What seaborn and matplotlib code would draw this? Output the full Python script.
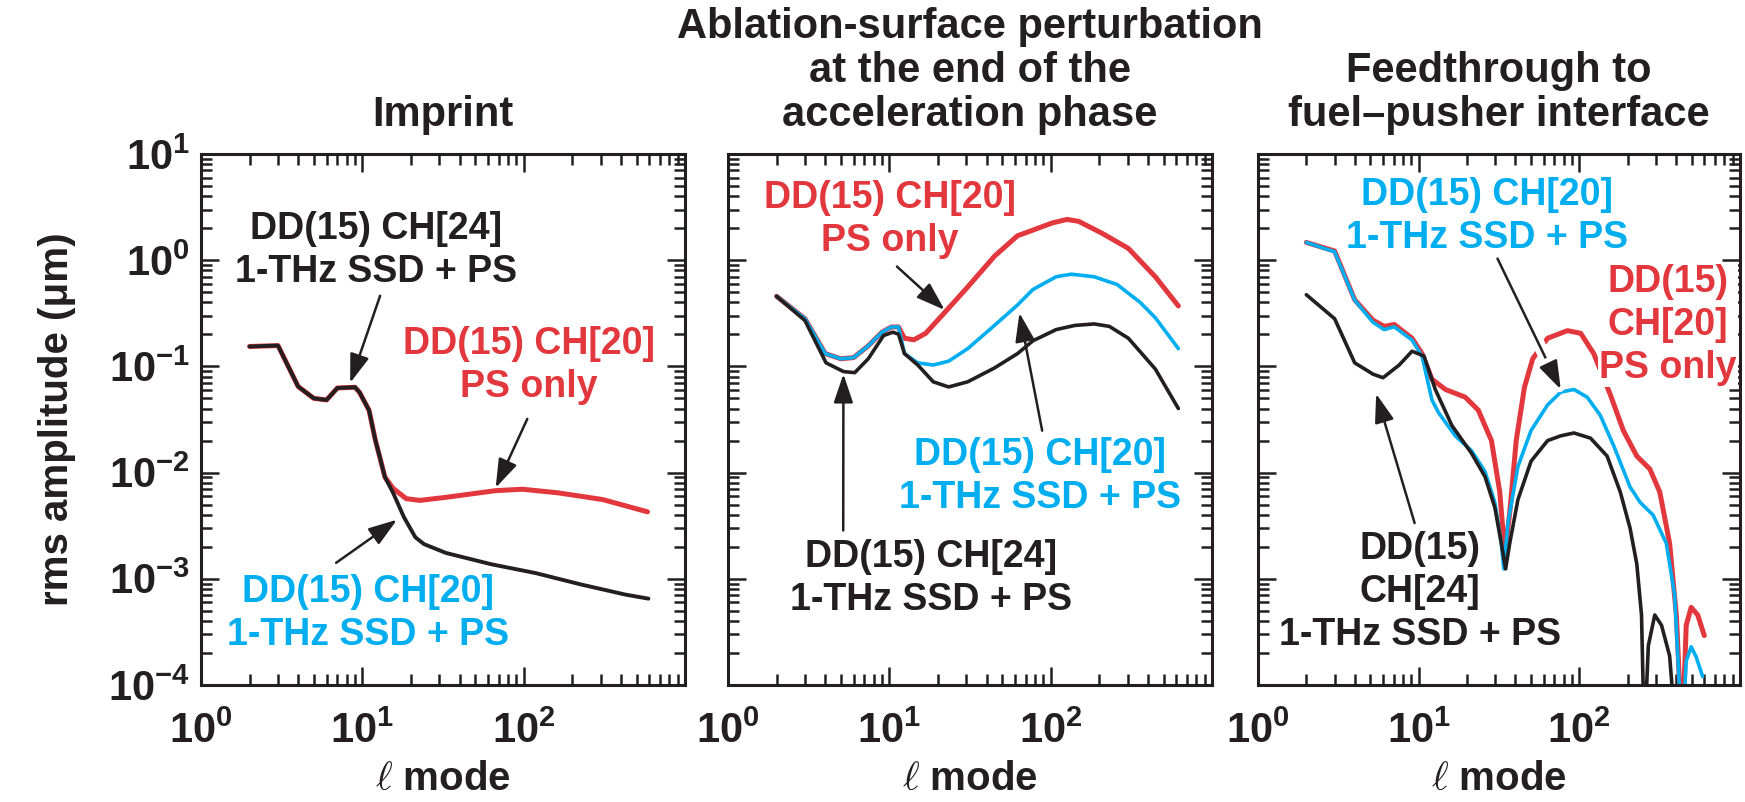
import pandas as pd
import seaborn as sns
import matplotlib.pyplot as plt
import matplotlib.patheffects as pe
from matplotlib.ticker import FixedLocator, FixedFormatter, LogLocator, NullFormatter

BLACK = "#231f20"
RED = "#e2373d"
BLUE = "#00aeef"

# tick values / labels
x_ticks = [1, 10, 100, 1000]
x_tick_labels = [r"$10^{0}$", r"$10^{1}$", r"$10^{2}$", ""]
y_ticks = [1e-4, 1e-3, 1e-2, 1e-1, 1e0, 1e1]
y_tick_labels = [r"$10^{-4}$", r"$10^{-3}$", r"$10^{-2}$", r"$10^{-1}$", r"$10^{0}$", r"$10^{1}$"]

titles = ["Imprint",
          "Ablation-surface perturbation\nat the end of the\nacceleration phase",
          "Feedthrough to\nfuel\u2013pusher interface"]

# panel 1: imprint
imp_red_mode = [2, 3, 4, 5, 6, 7, 9, 9.6, 11, 12, 13.8, 15.5, 18.7, 22.7, 33, 67, 98, 163, 309, 585]
imp_red_amp = [0.154, 0.157, 0.0646, 0.050, 0.0483, 0.0626, 0.0636, 0.057, 0.0386, 0.0206, 0.00906,
               0.0071, 0.00568, 0.00547, 0.00585, 0.00676, 0.00697, 0.00645, 0.00557, 0.00427]
imp_black_mode = [2, 3, 4, 5, 6, 7, 9, 9.6, 11, 12, 13.8, 15.5, 18.1, 21.3, 24.1, 33, 63, 119, 225, 426, 593]
imp_black_amp = [0.154, 0.157, 0.0646, 0.050, 0.0483, 0.0626, 0.0636, 0.057, 0.0386, 0.0206, 0.00906,
                 0.00645, 0.0038, 0.00246, 0.00212, 0.00175, 0.00137, 0.00113, 0.000886, 0.00071, 0.00065]

# panel 2: ablation surface
abl_red_mode = [2, 3, 4, 5, 6, 7.4, 9, 10.3, 11.4, 12.4, 14.2, 16.8, 22, 30.6, 44.8, 62.3, 73.4, 102,
                126, 149, 207, 303, 445, 618]
abl_red_amp = [0.457, 0.281, 0.132, 0.118, 0.121, 0.156, 0.210, 0.235, 0.235, 0.184, 0.178, 0.205,
               0.321, 0.56, 1.09, 1.70, 1.86, 2.24, 2.42, 2.32, 1.80, 1.29, 0.698, 0.371]
abl_blue_mode = [2, 3, 4, 5, 6, 7.4, 9, 10.3, 11.4, 12.4, 15, 18.7, 23.3, 30.6, 44.8, 62.3, 77.5, 108,
                 134, 186, 258, 358, 445, 618]
abl_blue_amp = [0.457, 0.281, 0.132, 0.118, 0.121, 0.156, 0.210, 0.235, 0.235, 0.132, 0.108, 0.103,
                0.112, 0.147, 0.243, 0.379, 0.529, 0.698, 0.738, 0.698, 0.590, 0.401, 0.287, 0.147]
abl_black_mode = [2, 3, 4.05, 5.2, 6.1, 7.4, 9.2, 10.5, 11.4, 12.4, 15, 18.7, 23.3, 30.6, 44.8, 62.3,
                  77.5, 108, 141, 186, 231, 303, 445, 618]
abl_black_amp = [0.457, 0.27, 0.108, 0.0893, 0.0873, 0.118, 0.195, 0.210, 0.201, 0.132, 0.103, 0.0716,
                 0.064, 0.0716, 0.0966, 0.132, 0.174, 0.222, 0.243, 0.251, 0.238, 0.184, 0.0944, 0.0401]

# panel 3: feedthrough
fdt_red_mode = [2, 3, 4, 5.2, 6.1, 7.05, 9.1, 10.5, 12.1, 14.7, 19.5, 23.5, 28.4, 32, 34.4, 36.9, 40.5,
                45.6, 51.3, 63.5, 84.4, 102, 123, 156, 188, 228, 275, 317, 365, 402, 437, 463, 497,
                546, 600]
fdt_red_amp = [1.47, 1.22, 0.424, 0.272, 0.238, 0.248, 0.184, 0.132, 0.0757, 0.0606, 0.0513, 0.0388,
               0.0200, 0.00656, 0.0017, 0.0042, 0.02, 0.064, 0.118, 0.184, 0.217, 0.205, 0.132, 0.0542,
               0.0249, 0.0143, 0.0108, 0.00656, 0.00216, 0.000456, 0.00003, 0.000365, 0.000538,
               0.000456, 0.000292]
fdt_blue_mode = [2, 3, 4, 5.2, 6.1, 7.05, 9.1, 10.5, 12.1, 13.3, 16.9, 21.4, 25.9, 29.8, 32.7, 33.9, 36,
                 41.5, 50.1, 63.5, 76.7, 92.7, 112, 135, 164, 207, 239, 288, 348, 392, 437, 463, 497,
                 533, 586]
fdt_blue_amp = [1.47, 1.2, 0.42, 0.26, 0.222, 0.236, 0.177, 0.125, 0.0484, 0.0367, 0.0222, 0.016,
                0.0102, 0.00525, 0.00216, 0.00124, 0.00337, 0.0114, 0.0249, 0.0434, 0.0573, 0.0606,
                0.0513, 0.0347, 0.0178, 0.00733, 0.00525, 0.00398, 0.00216, 0.00071, 0.00003,
                0.000168, 0.000229, 0.000185, 0.00012]
fdt_black_mode = [2, 3, 4, 5.2, 6, 7.57, 9.1, 10.8, 12.7, 16.1, 21.4, 25.9, 29.8, 32.7, 34.8, 36.9,
                  41.5, 50.1, 63.5, 76.7, 92.7, 117.5, 149, 180, 207, 228, 244, 254, 269, 295, 325,
                  365, 402]
fdt_black_amp = [0.473, 0.281, 0.108, 0.0845, 0.0782, 0.103, 0.139, 0.125, 0.0606, 0.0278, 0.0151,
                 0.00914, 0.0047, 0.00216, 0.00124, 0.00216, 0.00556, 0.0128, 0.02, 0.0222, 0.0236,
                 0.0211, 0.0143, 0.00656, 0.003, 0.00138, 0.000456, 0.00003, 0.000234, 0.000456,
                 0.000365, 0.000188, 0.00003]

LBL_24 = "DD(15) CH[24]\n1-THz SSD + PS"
LBL_20SSD = "DD(15) CH[20]\n1-THz SSD + PS"
LBL_20PS = "DD(15) CH[20]\nPS only"


def draw_series(ax, mode, amp, color, lw):
    df = pd.DataFrame({"mode": mode, "amp": amp})
    sns.lineplot(data=df, x="mode", y="amp", ax=ax, color=color, linewidth=lw,
                 estimator=None, sort=False, legend=False)


def style_axes(ax, show_y):
    ax.set_xscale("log")
    ax.set_yscale("log")
    ax.set_xlim(1, 1000)
    ax.set_ylim(1e-4, 10)
    ax.xaxis.set_major_locator(FixedLocator(x_ticks))
    ax.xaxis.set_major_formatter(FixedFormatter(x_tick_labels))
    ax.yaxis.set_major_locator(FixedLocator(y_ticks))
    ax.yaxis.set_major_formatter(FixedFormatter(y_tick_labels))
    for axis in (ax.xaxis, ax.yaxis):
        axis.set_minor_locator(LogLocator(base=10, subs=range(2, 10), numticks=20))
        axis.set_minor_formatter(NullFormatter())
    ax.tick_params(which="both", direction="in", top=True, right=True, color=BLACK,
                   width=1.8, labelsize=30, labelcolor=BLACK)
    ax.tick_params(which="major", length=13)
    ax.tick_params(which="minor", length=8)
    ax.tick_params(axis="x", pad=19)
    ax.tick_params(axis="y", pad=8, labelleft=show_y)
    for sp in ax.spines.values():
        sp.set_linewidth(2.2)
        sp.set_color(BLACK)
        sp.set_visible(True)
    ax.set_xlabel(r"$\ell$ mode", fontsize=29, fontweight="bold", labelpad=6, color=BLACK,
                  math_fontfamily="cm")
    if show_y:
        ax.set_ylabel("rms amplitude (\u03bcm)", fontsize=29, fontweight="bold", labelpad=23,
                      color=BLACK)
    else:
        ax.set_ylabel("")
    ax.grid(False)


def label(ax, x, y, text, color, **kw):
    ax.text(x, y, text, transform=ax.transAxes, ha="center", va="center",
            fontsize=27, color=color, linespacing=1.25, **kw)


def arrow(ax, tip, tail, halo=False):
    ann = ax.annotate("", xy=tip, xycoords="data", xytext=tail, textcoords="axes fraction",
                      arrowprops=dict(arrowstyle="-|>,head_length=0.65,head_width=0.22",
                                      color=BLACK, lw=1.8, shrinkA=0, shrinkB=0,
                                      mutation_scale=27))
    if halo:
        ann.arrow_patch.set_path_effects([pe.withStroke(linewidth=9, foreground="white")])


def main() -> None:
    sns.set_style("ticks")
    plt.rcParams["font.family"] = ["Liberation Sans", "DejaVu Sans"]
    plt.rcParams["font.weight"] = "bold"
    plt.rcParams["mathtext.fontset"] = "custom"
    for k in ("rm", "it", "bf", "sf"):
        plt.rcParams["mathtext." + k] = "Liberation Sans:bold"
    plt.rcParams["mathtext.default"] = "bf"

    fig = plt.figure(figsize=(17.45, 8.02), dpi=100)
    b, h = 0.1459, 0.6621
    ax1 = fig.add_axes([0.1152, b, 0.2774, h])
    ax2 = fig.add_axes([0.4172, b, 0.2774, h])
    ax3 = fig.add_axes([0.7209, b, 0.2762, h])

    # panel 1
    draw_series(ax1, imp_red_mode, imp_red_amp, RED, 3.6)
    draw_series(ax1, imp_black_mode, imp_black_amp, BLACK, 2.8)
    # panel 2
    draw_series(ax2, abl_red_mode, abl_red_amp, RED, 3.6)
    draw_series(ax2, abl_blue_mode, abl_blue_amp, BLUE, 2.6)
    draw_series(ax2, abl_black_mode, abl_black_amp, BLACK, 2.6)
    # panel 3
    draw_series(ax3, fdt_red_mode, fdt_red_amp, RED, 3.6)
    draw_series(ax3, fdt_blue_mode, fdt_blue_amp, BLUE, 2.6)
    draw_series(ax3, fdt_black_mode, fdt_black_amp, BLACK, 2.6)

    for ax, t, show_y in zip((ax1, ax2, ax3), titles, (True, False, False)):
        style_axes(ax, show_y)
        ax.set_title(t, fontsize=30, fontweight="bold", color=BLACK, pad=20, linespacing=1.13)

    # annotations panel 1
    label(ax1, 0.362, 0.819, LBL_24, BLACK)
    arrow(ax1, (8.4, 0.07), (0.370, 0.733))
    label(ax1, 0.678, 0.601, LBL_20PS, RED)
    arrow(ax1, (67, 0.0072), (0.674, 0.501))
    label(ax1, 0.345, 0.134, LBL_20SSD, BLUE)
    arrow(ax1, (16.4, 0.0036), (0.279, 0.230))

    # annotations panel 2
    label(ax2, 0.335, 0.876, LBL_20PS, RED)
    arrow(ax2, (22, 0.34), (0.349, 0.788))
    label(ax2, 0.645, 0.392, LBL_20SSD, BLUE)
    arrow(ax2, (64, 0.319), (0.649, 0.479))
    label(ax2, 0.419, 0.200, LBL_24, BLACK)
    arrow(ax2, (5.19, 0.0847), (0.238, 0.291))

    # annotations panel 3
    label(ax3, 0.476, 0.883, LBL_20SSD, BLUE)
    arrow(ax3, (76.7, 0.0607), (0.497, 0.803), halo=True)
    label(ax3, 0.851, 0.678, "DD(15)\nCH[20]\nPS only", RED,
          bbox=dict(facecolor="white", edgecolor="none", pad=1))
    label(ax3, 0.336, 0.175, "DD(15)\nCH[24]\n1-THz SSD + PS", BLACK)
    arrow(ax3, (5.44, 0.0552), (0.325, 0.305))

    fig.savefig("out.png", dpi=100)


if __name__ == "__main__":
    main()
